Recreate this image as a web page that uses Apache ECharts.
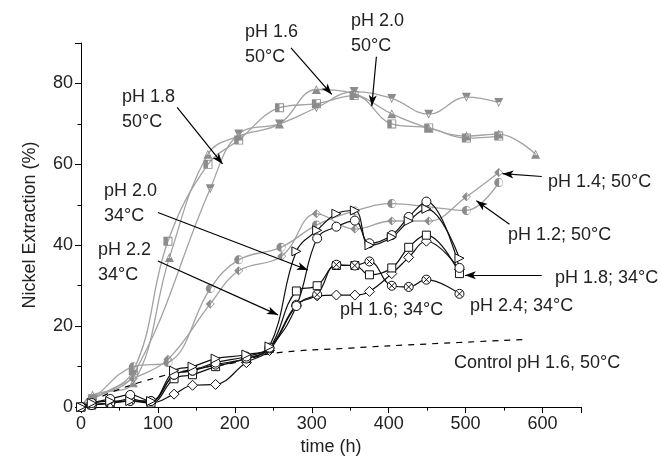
<!DOCTYPE html>
<html>
<head>
<meta charset="utf-8">
<script src="https://cdn.jsdelivr.net/npm/echarts@6/dist/echarts.min.js"></script>
<style>
  html, body { margin: 0; padding: 0; background: #fff; }
  #chart { width: 661px; height: 461px; }
</style>
</head>
<body>
<div id="chart"></div>
<script>
// 50 C series (grey, half filled markers)
const t16_50 = [0, 15, 68, 115, 165, 205, 258, 306, 355, 404, 452, 501, 543, 591]
const v16_50 = [0, 3, 6, 37, 62.5, 67, 70, 78.5, 77.5, 72.5, 69, 67, 67.5, 62.5]
const t18_50 = [0, 15, 68, 113, 165, 205, 258, 306, 355, 404, 452, 501, 543]
const v18_50 = [0, 2, 9, 41, 60, 66, 74, 75, 77, 70, 69, 66.5, 67]
const t20_50 = [0, 15, 68, 168, 205, 258, 306, 355, 404, 452, 501, 543]
const v20_50 = [0, 2, 8, 54, 67.5, 70, 74, 78, 76.3, 72.4, 76.6, 75.3]
const t12_50 = [0, 15, 68, 113, 168, 205, 260, 306, 356, 404, 452, 501, 543]
const v12_50 = [0, 2, 10, 11, 29.3, 36.4, 39.5, 45, 48.5, 50.3, 49.5, 48.6, 55.5]
const t14_50 = [0, 15, 68, 113, 168, 205, 261, 306, 356, 404, 452, 501, 543]
const v14_50 = [0, 2, 7, 11.8, 25.5, 33.7, 37.3, 47.8, 44, 46, 46, 52, 58]

// 34 C series (black, open markers)
const t34 = [0, 14, 38, 64, 91, 121, 145, 175, 215, 245, 280, 307, 332, 356, 375, 404, 426, 449, 492]
const v20_34 = [0, 1, 1.5, 1.5, 1.5, 9, 10, 12, 13, 15, 38.5, 43.7, 47.8, 48.6, 40, 42, 46, 49, 36.8]
const v22_34 = [0, 1, 2, 3, 1.5, 8, 9, 11, 12.5, 14.7, 25, 41.7, 44.6, 46.1, 40.5, 42.5, 47, 50.8, 34.4]
const v18_34 = [0, 0.5, 1, 2, 1, 7, 8, 10, 12, 14.5, 28.7, 30, 35, 35, 32.7, 34.4, 39.5, 42.5, 33]
const v16_34 = [0, 0.5, 1, 1.5, 1, 3.2, 5.4, 5.6, 11, 14, 25, 27.5, 27.7, 27.7, 28.6, 33, 37, 41, 34]
const v24_34 = [0, 0.5, 1, 1.5, 1.5, 8, 9, 10.5, 12, 14.5, 25.3, 27.8, 35.2, 35, 36, 30, 29.7, 31.5, 28]

// control
const tCtrl = [0, 40, 100, 150, 200, 250, 350, 450, 575]
const vCtrl = [0, 3.7, 7.4, 9.5, 11, 13.3, 14.6, 15.6, 16.7]

// arrows [from, to] in data units
const arrows = [
  [[125, 74.1], [184, 60.1]],
  [[273, 88.8], [326, 77.3]],
  [[384, 86.6], [378, 74.4]],
  [[100, 48.1], [295, 33.9]],
  [[100, 36.1], [256, 22.8]],
  [[599, 57], [548, 57.7]],
  [[557, 45.2], [514, 51]],
  [[599, 32.6], [499, 32.6]]
]

const font = '"Liberation Sans", Arial, sans-serif'
const grey = '#8c8c8c'
const greyLine = '#a2a2a2'

const pts = (t, v) => t.map((x, i) => [x, v[i]])

const sym = {
  halfTriUp: 'path://M10 0 L20 18 L0 18 Z M10 4 L6 10 L14 10 Z',
  halfTriDown: 'path://M0 0 L20 0 L10 18 Z M6 8 L10 14 L14 8 Z',
  halfSquare: 'path://M0 0 L20 0 L20 20 L0 20 Z M10 2 L10 18 L18 18 L18 2 Z',
  halfCircle: 'path://M10 0 A10 10 0 1 1 10 20 A10 10 0 1 1 10 0 Z M11 2 L11 18 A8 8 0 0 0 11 2 Z',
  halfDiamond: 'path://M10 0 L20 10 L10 20 L0 10 Z M11 3 L11 17 L18 10 Z',
  triRight: 'path://M0 0 L18 10 L0 20 Z',
  square: 'path://M0 0 L20 0 L20 20 L0 20 Z',
  diamond: 'path://M10 0 L20 10 L10 20 L0 10 Z',
  circle: 'path://M10 0 A10 10 0 1 1 10 20 A10 10 0 1 1 10 0 Z',
  crossCircle: 'path://M10 0 A10 10 0 1 1 10 20 A10 10 0 1 1 10 0 Z M3 3 L17 17 M17 3 L3 17'
}

function greySeries (name, data, symbol) {
  return {
    name: name, type: 'line', data: data, smooth: 0.4,
    symbol: symbol, symbolSize: 9, showAllSymbol: true,
    lineStyle: { color: greyLine, width: 1.3 },
    itemStyle: { color: grey, borderWidth: 0 },
    z: 2
  }
}

function blackSeries (name, data, symbol, size) {
  return {
    name: name, type: 'line', data: data, smooth: 0.4,
    symbol: symbol, symbolSize: size || 9, showAllSymbol: true,
    lineStyle: { color: '#111', width: 1.2 },
    itemStyle: { color: '#fff', borderColor: '#111', borderWidth: 1 },
    z: 3
  }
}

function text (str, x, y) {
  return {
    type: 'text', x: x, y: y,
    style: { text: str, font: '18px ' + font, fill: '#222', verticalAlign: 'top', lineHeight: 25 }
  }
}

const option = {
  animation: false,
  backgroundColor: '#fff',
  grid: { left: 81, right: 80, top: 43, bottom: 51 },
  xAxis: {
    type: 'value', min: 0, max: 650, interval: 100,
    name: 'time (h)', nameLocation: 'middle', nameGap: 30,
    nameTextStyle: { fontFamily: font, fontSize: 18, color: '#222' },
    axisLine: { lineStyle: { color: '#000', width: 1 } },
    axisTick: { length: 6, lineStyle: { color: '#000' } },
    minorTick: { show: true, splitNumber: 2, length: 3.5, lineStyle: { color: '#000' } },
    splitLine: { show: false },
    axisLabel: { fontFamily: font, fontSize: 18, color: '#222', margin: 8, showMaxLabel: false }
  },
  yAxis: {
    type: 'value', min: 0, max: 90, interval: 20,
    name: 'Nickel Extraction (%)', nameLocation: 'middle', nameGap: 42,
    nameTextStyle: { fontFamily: font, fontSize: 18, color: '#222' },
    axisLine: { show: true, lineStyle: { color: '#000', width: 1 } },
    axisTick: { show: true, length: 6, lineStyle: { color: '#000' } },
    minorTick: { show: true, splitNumber: 2, length: 3.5, lineStyle: { color: '#000' } },
    splitLine: { show: false },
    axisLabel: { fontFamily: font, fontSize: 18, color: '#222', margin: 8, showMaxLabel: false }
  },
  series: [
    greySeries('pH 1.2; 50°C', pts(t12_50, v12_50), sym.halfCircle),
    greySeries('pH 1.4; 50°C', pts(t14_50, v14_50), sym.halfDiamond),
    greySeries('pH 1.6 50°C', pts(t16_50, v16_50), sym.halfTriUp),
    greySeries('pH 1.8 50°C', pts(t18_50, v18_50), sym.halfSquare),
    greySeries('pH 2.0 50°C', pts(t20_50, v20_50), sym.halfTriDown),
    blackSeries('pH 1.6; 34°C', pts(t34, v16_34), sym.diamond, 10),
    blackSeries('pH 1.8; 34°C', pts(t34, v18_34), sym.square, 8),
    blackSeries('pH 2.4; 34°C', pts(t34, v24_34), sym.crossCircle, 9),
    blackSeries('pH 2.2 34°C', pts(t34, v22_34), sym.circle, 9),
    blackSeries('pH 2.0 34°C', pts(t34, v20_34), sym.triRight, 9),
    {
      name: 'arrows', type: 'line', data: [], z: 4,
      markLine: {
        silent: true, animation: false,
        symbol: ['none', 'arrow'], symbolSize: [6, 11],
        label: { show: false },
        lineStyle: { color: '#000', width: 1.2, type: 'solid' },
        data: arrows.map(a => [{ coord: a[0] }, { coord: a[1] }])
      }
    },
    {
      name: 'Control pH 1.6, 50°C', type: 'line', data: pts(tCtrl, vCtrl), smooth: 0.4,
      symbol: 'none', lineStyle: { color: '#000', width: 1.2, type: [6, 6] }, z: 2
    }
  ],
  graphic: [
    text('pH 1.6\n50°C', 245, 20),
    text('pH 2.0\n50°C', 351, 9),
    text('pH 1.8\n50°C', 122, 85),
    text('pH 2.0\n34°C', 104, 179),
    text('pH 2.2\n34°C', 98, 238),
    text('pH 1.4; 50°C', 548, 170),
    text('pH 1.2; 50°C', 508, 223),
    text('pH 1.8; 34°C', 555, 266),
    text('pH 2.4; 34°C', 470, 294),
    text('pH 1.6; 34°C', 340, 298),
    text('Control pH 1.6, 50°C', 454, 351)
  ]
}

const chart = echarts.init(document.getElementById('chart'), null, { renderer: 'canvas' })
chart.setOption(option)
window.addEventListener('resize', () => chart.resize())
</script>
</body>
</html>
